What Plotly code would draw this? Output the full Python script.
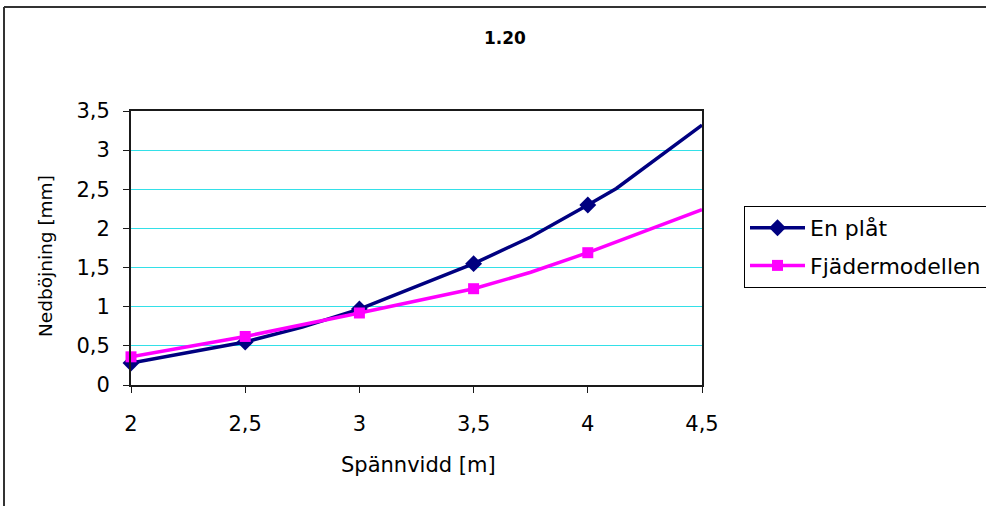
import plotly.graph_objects as go

# Spans (m) and deflections (mm); the extra points between the markers
# carry the curve's shape but are not marked.
span_en = [2.0, 2.5, 2.75, 3.0, 3.5, 3.75, 4.0, 4.125, 4.5]
defl_en = [0.28, 0.55, 0.74, 0.97, 1.55, 1.89, 2.30, 2.51, 3.32]
marked_en = [True, True, False, True, True, False, True, False, False]

span_fj = [2.0, 2.5, 3.0, 3.5, 3.75, 4.0, 4.5]
defl_fj = [0.36, 0.62, 0.92, 1.23, 1.44, 1.69, 2.24]
marked_fj = [True, True, True, True, False, True, False]

series_names = ["En plåt", "Fjädermodellen"]
series_colors = ["#000080", "#FF00FF"]
series_symbols = ["diamond", "square"]

x_ticks = [2, 2.5, 3, 3.5, 4, 4.5]
y_ticks = [0, 0.5, 1, 1.5, 2, 2.5, 3, 3.5]

W, H = 986, 506
FONT = "DejaVu Sans, Liberation Sans, Arial, sans-serif"

# plot area in pixels
left, right, top, bottom = 131, 702, 111, 385

fig = go.Figure()

series = [
    (span_en, defl_en, marked_en, 13),
    (span_fj, defl_fj, marked_fj, 11),
]
for i, (xs, ys, marked, msize) in enumerate(series):
    sizes = [msize if m else 0 for m in marked]
    fig.add_trace(go.Scatter(
        x=xs, y=ys, mode="lines+markers",
        line=dict(color=series_colors[i], width=3.5),
        marker=dict(symbol=series_symbols[i], size=sizes, opacity=1,
                    color=series_colors[i], line=dict(width=0)),
        showlegend=False, legendgroup=f"g{i}", cliponaxis=False,
    ))
    # legend entry
    fig.add_trace(go.Scatter(
        x=[None], y=[None], mode="lines+markers", name=series_names[i],
        line=dict(color=series_colors[i], width=3.5),
        marker=dict(symbol=series_symbols[i], size=msize, opacity=1,
                    color=series_colors[i], line=dict(width=0)),
        legendgroup=f"g{i}",
    ))

# outer chart frame: only the left and top edges fall inside the page
frame = dict(color="#333333", width=2)
shapes = [
    dict(type="line", xref="paper", yref="paper",
         x0=4 / W, x1=4 / W, y0=0, y1=1 - 7 / H, line=frame),
    dict(type="line", xref="paper", yref="paper",
         x0=4 / W, x1=1, y0=1 - 7 / H, y1=1 - 7 / H, line=frame),
]

fig.update_layout(
    width=W, height=H,
    margin=dict(l=0, r=0, t=0, b=0, autoexpand=False),
    paper_bgcolor="white", plot_bgcolor="white",
    separators=", ",
    font=dict(family=FONT, size=21, color="black"),
    showlegend=True,
    legend=dict(
        x=744 / W, y=1 - 206 / H, xanchor="left", yanchor="top",
        bgcolor="white", bordercolor="black", borderwidth=1,
        font=dict(family=FONT, size=22, color="black"),
        traceorder="grouped", tracegroupgap=6, itemwidth=55,
    ),
    xaxis=dict(
        domain=[left / W, right / W], automargin=False,
        range=[2, 4.5], tickvals=x_ticks,
        showgrid=False, zeroline=False,
        showline=True, linecolor="#1a1a1a", linewidth=2, mirror=True,
        ticks="outside", ticklen=6, tickcolor="#1a1a1a", tickwidth=1,
        ticklabelstandoff=13,
        tickfont=dict(family=FONT, size=21),
    ),
    yaxis=dict(
        domain=[1 - bottom / H, 1 - top / H], automargin=False,
        range=[0, 3.5], tickvals=y_ticks,
        showgrid=True, gridcolor="#33E0E8", gridwidth=1,
        zeroline=False,
        showline=True, linecolor="#1a1a1a", linewidth=2, mirror=True,
        ticks="outside", ticklen=6, tickcolor="#1a1a1a", tickwidth=1,
        ticklabelstandoff=9,
        tickfont=dict(family=FONT, size=21),
    ),
    shapes=shapes,
    annotations=[
        dict(text="<b>1.20</b>", x=505 / W, y=1 - 38 / H, xref="paper", yref="paper",
             showarrow=False, xanchor="center", yanchor="middle",
             font=dict(family=FONT, size=17)),
        dict(text="Spännvidd [m]", x=418 / W, y=1 - 465 / H, xref="paper", yref="paper",
             showarrow=False, xanchor="center", yanchor="middle",
             font=dict(family=FONT, size=21)),
        dict(text="Nedböjning [mm]", x=46 / W, y=1 - 256 / H, xref="paper", yref="paper",
             showarrow=False, xanchor="center", yanchor="middle", textangle=-90,
             font=dict(family=FONT, size=18.5)),
    ],
)

fig.write_html(
    "out.html",
    post_script="document.body.style.margin='0';document.body.style.overflow='hidden';",
)
